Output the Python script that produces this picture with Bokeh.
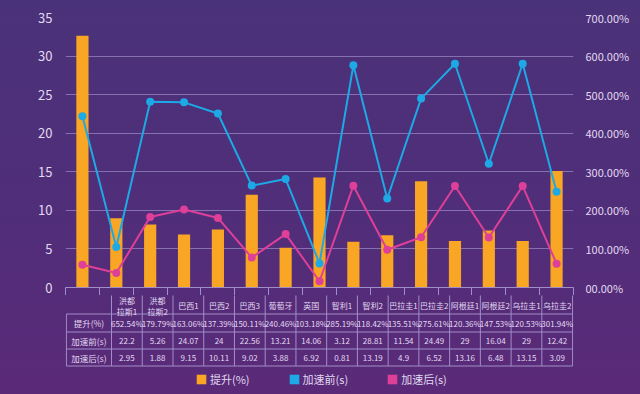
from bokeh.plotting import figure
from bokeh.models import Range1d, LinearAxis, FixedTicker, Legend, LegendItem
from bokeh.layouts import column
from bokeh.core.properties import value
from bokeh.embed import file_html
from bokeh.resources import INLINE

# ---------------- data ----------------
categories = ["洪都拉斯1", "洪都拉斯2", "巴西1", "巴西2", "巴西3", "葡萄牙", "英国", "智利1",
              "智利2", "巴拉圭1", "巴拉圭2", "阿根廷1", "阿根廷2", "乌拉圭1", "乌拉圭2"]
header_labels = ["洪都\n拉斯1", "洪都\n拉斯2", "巴西1", "巴西2", "巴西3", "葡萄牙", "英国", "智利1",
                 "智利2", "巴拉圭1", "巴拉圭2", "阿根廷1", "阿根廷2", "乌拉圭1", "乌拉圭2"]
improve_pct = [652.54, 179.79, 163.06, 137.39, 150.11, 240.46, 103.18, 285.19,
               118.42, 135.51, 275.61, 120.36, 147.53, 120.53, 301.94]
before_s = [22.2, 5.26, 24.07, 24, 22.56, 13.21, 14.06, 3.12,
            28.81, 11.54, 24.49, 29, 16.04, 29, 12.42]
after_s = [2.95, 1.88, 9.15, 10.11, 9.02, 3.88, 6.92, 0.81,
           13.19, 4.9, 6.52, 13.16, 6.48, 13.15, 3.09]
left_ticks = [0, 5, 10, 15, 20, 25, 30, 35]
right_ticks = [0, 100, 200, 300, 400, 500, 600, 700]
right_tick_labels = ["00.00%", "100.00%", "200.00%", "300.00%", "400.00%", "500.00%", "600.00%", "700.00%"]
row_labels = ["提升(%)", "加速前(s)", "加速后(s)"]
legend_labels = ["提升(%)", "加速前(s)", "加速后(s)"]

# ---------------- style ----------------
FONT = "Noto Sans CJK SC"
TXT = "#e2daf2"
GRID = "#8570b0"
TLINE = "#a18dc8"
ORANGE = "#F8A623"
BLUE = "#1CA9E6"
PINK = "#DE3F98"

n = len(categories)
centers = [i + 0.5 for i in range(n)]   # category slot centres
bounds = list(range(n + 1))             # category slot boundaries

# ---------------- chart ----------------
p1 = figure(width=624, height=287, x_range=Range1d(0, n), y_range=Range1d(0, 35),
            output_backend="svg", toolbar_location=None, x_axis_location=None,
            min_border_left=57, min_border_right=56, min_border_top=9, min_border_bottom=8)
p1.extra_y_ranges = {"pct": Range1d(0, 700)}
p1.background_fill_color = None
p1.border_fill_color = None
p1.outline_line_color = None

ya = p1.yaxis[0]
ya.ticker = FixedTicker(ticks=left_ticks)
ya.axis_line_color = None
ya.major_tick_line_color = None
ya.minor_tick_line_color = None
ya.major_label_text_color = TXT
ya.major_label_text_font = FONT
ya.major_label_text_font_size = "13px"
ya.major_label_standoff = 7

ra = LinearAxis(y_range_name="pct", ticker=FixedTicker(ticks=right_ticks),
                major_label_overrides=dict(zip(right_ticks, right_tick_labels)))
ra.axis_line_color = None
ra.major_tick_line_color = None
ra.minor_tick_line_color = None
ra.major_label_text_color = TXT
ra.major_label_text_font = FONT
ra.major_label_text_font_size = "11px"
ra.major_label_standoff = 6
p1.add_layout(ra, "right")

# bottom axis: line + column separators (top part of the table header)
xa = LinearAxis(ticker=FixedTicker(ticks=[], minor_ticks=bounds))
xa.axis_line_color = TLINE
xa.major_tick_line_color = None
xa.major_tick_out = 0
xa.major_tick_in = 0
xa.minor_tick_line_color = TLINE
xa.minor_tick_out = 8
xa.minor_tick_in = 0
xa.major_label_standoff = 0
xa.major_label_text_font_size = "0px"
p1.add_layout(xa, "below")

p1.xgrid.grid_line_color = None
p1.ygrid.grid_line_color = GRID
p1.ygrid.grid_line_width = 1

p1.vbar(x=centers, top=improve_pct, width=0.36, y_range_name="pct",
        fill_color=ORANGE, line_color=None)
p1.line(centers, before_s, line_color=BLUE, line_width=2)
p1.scatter(centers, before_s, size=8, fill_color=BLUE, line_color=None)
p1.line(centers, after_s, line_color=PINK, line_width=2)
p1.scatter(centers, after_s, size=8, fill_color=PINK, line_color=None)

# ---------------- table ----------------
LCOL = -1.4676
p2 = figure(width=624, height=91, x_range=Range1d(-1.497, 15.03), y_range=Range1d(98.5, 7.5),
            output_backend="svg", toolbar_location=None, x_axis_location=None, y_axis_location=None,
            min_border_left=6, min_border_right=55, min_border_top=0, min_border_bottom=0)
p2.background_fill_color = None
p2.border_fill_color = None
p2.outline_line_color = None
p2.grid.visible = False

row_lines = [26, 44, 61, 78]
x0 = [LCOL] * len(row_lines) + bounds + [LCOL]
x1 = [n] * len(row_lines) + bounds + [LCOL]
y0 = row_lines + [7] * (n + 1) + [26]
y1 = row_lines + [78] * (n + 1) + [78]
p2.segment(x0=x0, y0=y0, x1=x1, y1=y1, line_color=TLINE, line_width=1)

p2.text(x=centers, y=[17.5] * n, text=header_labels, text_font=value(FONT), text_font_size="8px",
        text_color=TXT, text_align="center", text_baseline="middle", text_line_height=1.0)

row_y = [35, 52.5, 69.5]
rows = [[f"{v:.2f}%" for v in improve_pct], [f"{v:g}" for v in before_s], [f"{v:g}" for v in after_s]]
for ry, vals in zip(row_y, rows):
    p2.text(x=centers, y=[ry] * n, text=vals, text_font=value(FONT), text_font_size="8px",
            text_color=TXT, text_align="center", text_baseline="middle")
p2.text(x=[LCOL / 2] * 3, y=row_y, text=row_labels, text_font=value(FONT), text_font_size="8.5px",
        text_color=TXT, text_align="center", text_baseline="middle")

# legend swatches: hidden proxy renderers
lg = []
for lab, col in zip(legend_labels, [ORANGE, BLUE, PINK]):
    r = p2.vbar(x=[0], top=[0], width=0, fill_color=col, line_color=None)
    r.visible = False
    lg.append(LegendItem(label=lab, renderers=[r]))
legend = Legend(items=lg, orientation="horizontal", location=(130, -1),
                glyph_width=12, glyph_height=12, label_standoff=3, spacing=38,
                padding=0, margin=0, border_line_color=None, background_fill_alpha=0,
                inactive_fill_alpha=0,
                label_text_font=FONT, label_text_font_size="11px", label_text_color=TXT)
p2.add_layout(legend)

layout = column(p1, p2)

tmpl = """{% block postamble %}<style>
html{min-height:100%;overflow:hidden;background:linear-gradient(180deg,#4a3279 0%,#502e79 50%,#5a2a78 100%) !important;}
body{margin:8px !important;padding:0;background:transparent !important;}
</style>{% endblock %}"""

open("out.html", "w").write(file_html(layout, INLINE, template=tmpl))
